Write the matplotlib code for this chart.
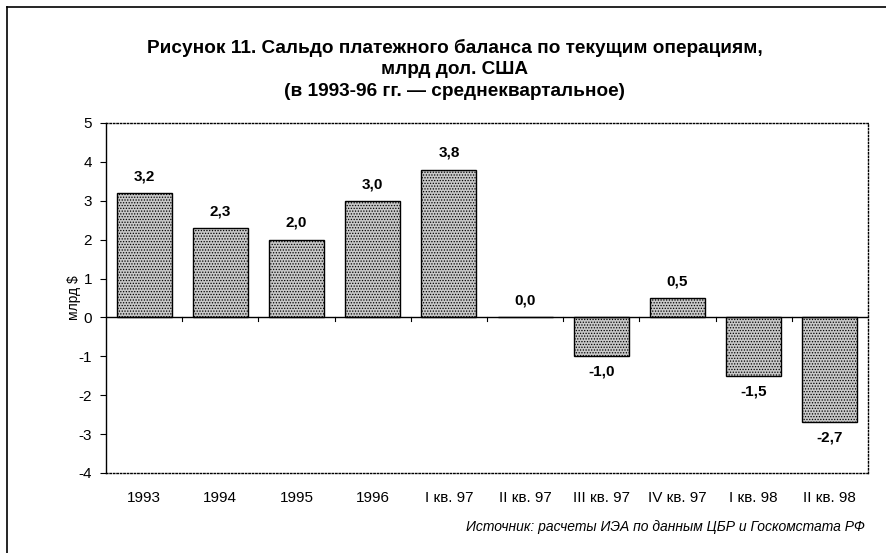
import matplotlib
matplotlib.use("Agg")
import matplotlib.pyplot as plt
from matplotlib.lines import Line2D

categories = ["1993", "1994", "1995", "1996", "I кв. 97", "II кв. 97",
              "III кв. 97", "IV кв. 97", "I кв. 98", "II кв. 98"]
values = [3.2, 2.3, 2.0, 3.0, 3.8, 0.0, -1.0, 0.5, -1.5, -2.7]
labels = ["3,2", "2,3", "2,0", "3,0", "3,8", "0,0", "-1,0", "0,5", "-1,5", "-2,7"]
yticks = [-4, -3, -2, -1, 0, 1, 2, 3, 4, 5]

plt.rcParams['font.family'] = ['Liberation Sans', 'DejaVu Sans']
plt.rcParams['hatch.color'] = '#8c8c8c'
plt.rcParams['hatch.linewidth'] = 0.6

W, H = 887, 553
fig = plt.figure(figsize=(W / 100, H / 100), dpi=100)
ax = fig.add_axes([106 / W, 1 - 473 / H, (868 - 106) / W, (473 - 123) / H])

x = list(range(len(categories)))
ax.bar(x, values, width=0.72, color="#c8c8c8", edgecolor="black",
       linewidth=1.0, hatch="......", zorder=2)

for xi, v, lab in zip(x, values, labels):
    if v >= 0:
        ax.annotate(lab, (xi, v), xytext=(0, 7), textcoords="offset points",
                    ha="center", va="bottom", fontsize=11, fontweight="bold")
    else:
        ax.annotate(lab, (xi, v), xytext=(0, -6), textcoords="offset points",
                    ha="center", va="top", fontsize=11, fontweight="bold")

ax.set_xlim(-0.5, len(categories) - 0.5)
ax.set_ylim(-4, 5)
ax.set_yticks(yticks)
ax.set_yticklabels([str(t) for t in yticks], fontsize=11)
ax.tick_params(axis="y", direction="out", length=4, width=0.8, pad=6)
ax.set_xticks([])

# category labels below plot area
for xi, c in zip(x, categories):
    ax.text(xi, -4.45, c, ha="center", va="top", fontsize=11)

# zero line with boundary ticks
ax.axhline(0, color="black", linewidth=1.0, zorder=3)
for b in [i + 0.5 for i in range(len(categories) - 1)]:
    ax.plot([b, b], [0, -0.08], color="black", linewidth=0.8, zorder=3,
            clip_on=False)

for s in ["top", "right", "bottom"]:
    ax.spines[s].set_linestyle((0, (1, 1.5)))
    ax.spines[s].set_linewidth(1.0)
ax.spines["left"].set_linewidth(1.0)

ax.set_ylabel("млрд $", fontsize=10, labelpad=-1.5)

cx = 455 / W
fig.text(cx, 1 - 48 / H,
         "Рисунок 11. Сальдо платежного баланса по текущим операциям,",
         ha="center", va="center", fontsize=13.7, fontweight="bold")
fig.text(cx, 1 - 70 / H, "млрд дол. США",
         ha="center", va="center", fontsize=13.7, fontweight="bold")
fig.text(cx, 1 - 92 / H,
         "(в 1993-96 гг. — среднеквартальное)",
         ha="center", va="center", fontsize=13.7, fontweight="bold")

fig.text(865 / W, 1 - 527 / H,
         "Источник: расчеты ИЭА по данным ЦБР и Госкомстата РФ",
         ha="right", va="center", fontsize=10, style="italic")

# outer frame (left and top edges)
fig.add_artist(Line2D([7 / W, 7 / W], [0, 1 - 7 / H], transform=fig.transFigure,
                      color="black", linewidth=1.2))
fig.add_artist(Line2D([7 / W, 1], [1 - 7 / H, 1 - 7 / H], transform=fig.transFigure,
                      color="black", linewidth=1.2))

fig.savefig("out.png", dpi=100)
